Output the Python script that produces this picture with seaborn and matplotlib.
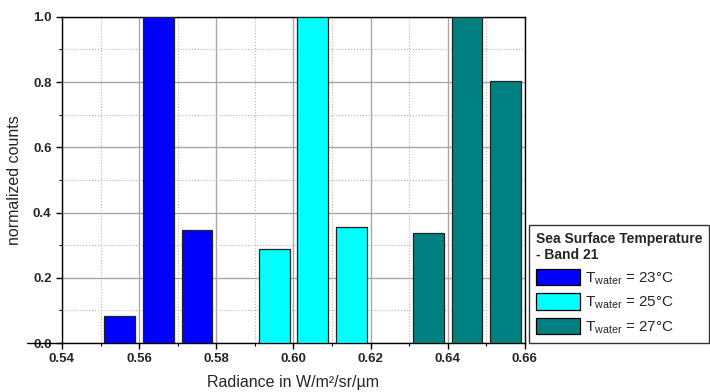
import numpy as np
import pandas as pd
import matplotlib
matplotlib.use("Agg")
import matplotlib.pyplot as plt
import seaborn as sns
from matplotlib.patches import Patch
from matplotlib.ticker import MultipleLocator, FormatStrFormatter

# histogram values
radiance_23 = [0.555, 0.565, 0.575]
counts_23 = [0.082, 1.0, 0.345]
radiance_25 = [0.595, 0.605, 0.615]
counts_25 = [0.288, 1.0, 0.355]
radiance_27 = [0.635, 0.645, 0.655]
counts_27 = [0.338, 1.0, 0.803]
series_labels = ["23", "25", "27"]
colors = ["#0000ff", "#00ffff", "#008080"]

df = pd.DataFrame({
    "radiance": radiance_23 + radiance_25 + radiance_27,
    "counts": counts_23 + counts_25 + counts_27,
    "temp": ["23"] * 3 + ["25"] * 3 + ["27"] * 3,
})

sns.set_style("white")
plt.rcParams["font.family"] = ["Liberation Sans", "DejaVu Sans"]
plt.rcParams["mathtext.fontset"] = "custom"
plt.rcParams["mathtext.rm"] = "Liberation Sans"

fig = plt.figure(figsize=(7.1, 3.92), dpi=100)
ax = fig.add_axes([0.0873, 0.125, 0.652, 0.832])

sns.barplot(
    data=df, x="radiance", y="counts", hue="temp", native_scale=True,
    palette=dict(zip(series_labels, colors)), dodge=False, width=0.8,
    saturation=1, edgecolor="#222222", linewidth=0.9, legend=False,
    ax=ax, zorder=3,
)

ax.set_xlim(0.54, 0.66)
ax.set_ylim(0.0, 1.0)
ax.xaxis.set_major_locator(MultipleLocator(0.02))
ax.xaxis.set_minor_locator(MultipleLocator(0.01))
ax.yaxis.set_major_locator(MultipleLocator(0.2))
ax.yaxis.set_minor_locator(MultipleLocator(0.1))
ax.xaxis.set_major_formatter(FormatStrFormatter("%.2f"))
ax.yaxis.set_major_formatter(FormatStrFormatter("%.1f"))

ax.grid(which="major", color="#a8a8a8", linewidth=1.0, zorder=0)
ax.grid(which="minor", color="#b4b4b4", linewidth=0.8, linestyle=":", zorder=0)
ax.set_axisbelow(True)

for side in ["left", "bottom", "top", "right"]:
    ax.spines[side].set_visible(True)
    ax.spines[side].set_color("black")
    ax.spines[side].set_linewidth(1.0)

ax.tick_params(which="both", direction="out", left=True, bottom=True,
               top=False, right=False, color="black")
ax.tick_params(which="major", length=4, width=1.0, labelsize=9.5)
ax.tick_params(which="minor", length=2.5, width=0.8)
for lab in ax.get_xticklabels() + ax.get_yticklabels():
    lab.set_fontweight("bold")

# line at y=0 extending left of the axis
ax.plot([-0.075, 0.0], [0.0, 0.0], transform=ax.transAxes, color="black",
        linewidth=1.0, clip_on=False)

ax.set_xlabel("Radiance in W/m²/sr/µm", fontsize=11.5, labelpad=7)
ax.set_ylabel("normalized counts", fontsize=11.5, labelpad=8)

handles = [Patch(facecolor=c, edgecolor="black", linewidth=0.9) for c in colors]
labels = [r"T$_{\mathrm{water}}$ = " + t + "°C" for t in series_labels]
leg = fig.legend(
    handles, labels, title="Sea Surface Temperature\n- Band 21",
    loc="lower left", bbox_to_anchor=(0.745, 0.125), fontsize=11,
    title_fontproperties={"weight": "bold", "size": 10},
    alignment="left", frameon=True, fancybox=False, edgecolor="black",
    handlelength=2.9, handleheight=1.25, handletextpad=0.3,
    borderpad=0.45, labelspacing=0.45, borderaxespad=0,
)
leg.get_frame().set_linewidth(1.0)

fig.savefig("out.png", dpi=100)
